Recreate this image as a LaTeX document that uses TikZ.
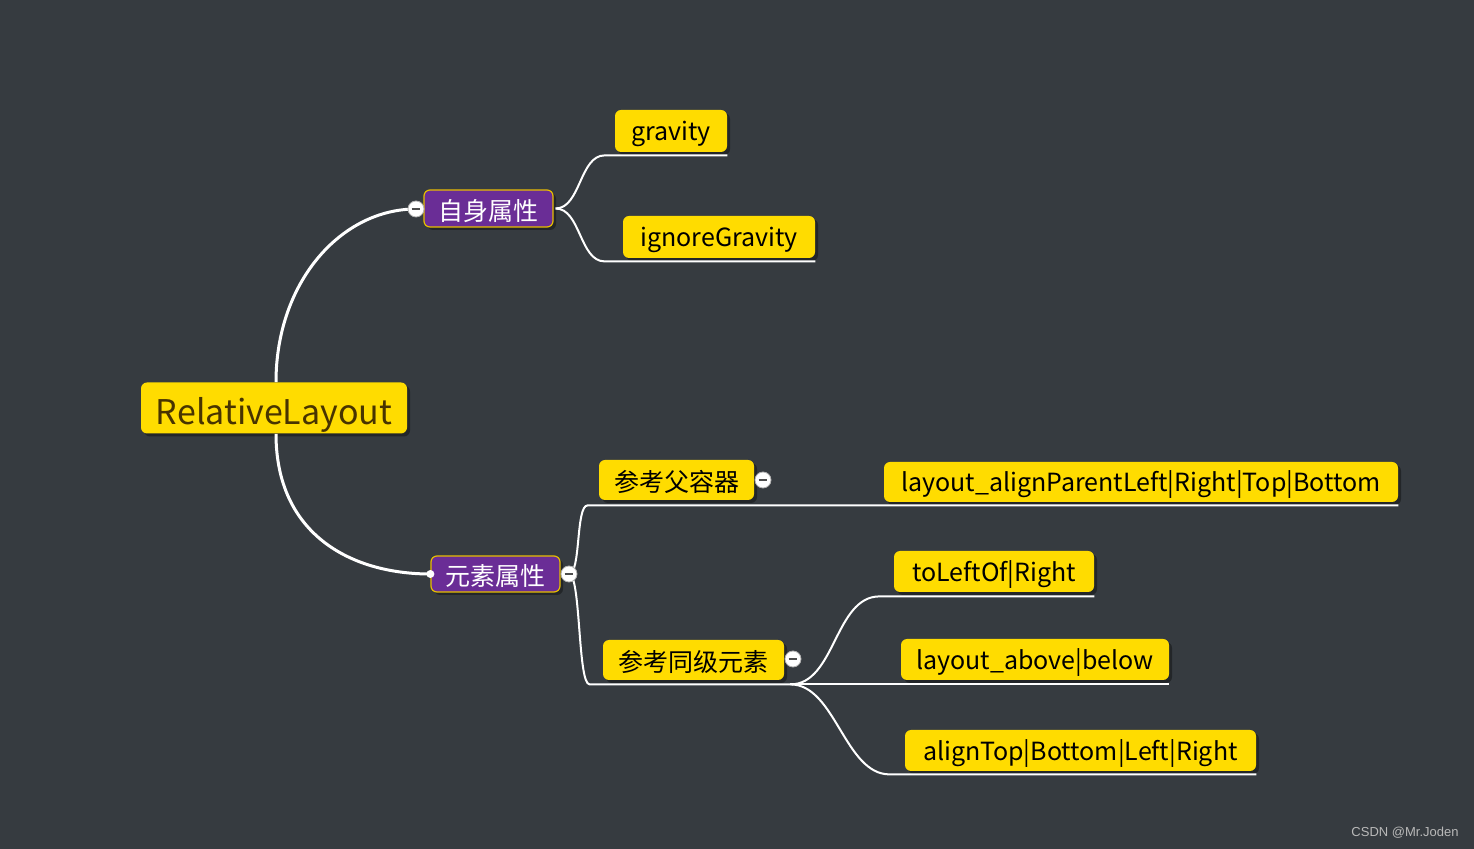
\documentclass[tikz,border=0pt]{standalone}
\usepackage{fontspec}
\setmainfont{Noto Sans CJK SC}
\newfontfamily\markfont{Liberation Sans}
\usetikzlibrary{shadows}
\definecolor{bg}{HTML}{363B40}
\definecolor{mmyellow}{HTML}{FFDC00}
\definecolor{mmpurple}{HTML}{6A2D96}
\definecolor{mmborder}{HTML}{E6BE00}
\definecolor{roottext}{RGB}{72,52,0}
\tikzset{
	topic/.style={fill=mmyellow, rounded corners=3pt, inner sep=0pt, text=black,
		font=\fontsize{12.5}{14}\selectfont, text height=12.5pt, text depth=2.5pt,
		drop shadow={shadow xshift=1.5pt, shadow yshift=-1.5pt, fill=black, opacity=0.35}},
	cjk/.style={text height=13.5pt, text depth=1.5pt},
	subtopic/.style={topic, cjk, fill=mmpurple, draw=mmborder, line width=0.6pt, text=white},
	link/.style={draw=white, line width=1pt},
	mainlink/.style={draw=white, line width=1.5pt},
	knob/.style={circle, fill=white, draw=gray!60, line width=0.4pt, minimum size=8pt, inner sep=0pt,
		path picture={\draw[black!70, line width=0.7pt] ([xshift=1.8pt]path picture bounding box.west) -- ([xshift=-1.8pt]path picture bounding box.east);}}
}

\begin{document}
\begin{tikzpicture}[x=0.5pt, y=-0.5pt]
	\useasboundingbox (0,0) rectangle (1474,849);
	\fill[bg] (0,0) rectangle (1474,849);

	% topics
	\node[topic, minimum width=133pt, minimum height=25.5pt, text=roottext, font=\fontsize{17}{20}\selectfont, text height=18.5pt, text depth=1.5pt] (root) at (274,408) {RelativeLayout};
	\node[subtopic, minimum width=64.5pt, minimum height=18.5pt] (self) at (488.5,208.5) {自身属性};
	\node[subtopic, minimum width=64.5pt, minimum height=18pt] (elem) at (495.5,574) {元素属性};
	\node[topic, minimum width=56pt, minimum height=21pt] (gravity) at (671,131) {gravity};
	\node[topic, minimum width=96pt, minimum height=21pt] (ignore) at (719,237) {ignoreGravity};
	\node[topic, cjk, minimum width=77.5pt, minimum height=20pt] (parent) at (676.5,480) {参考父容器};
	\node[topic, minimum width=257pt, minimum height=20pt] (alignparent) at (1141,482) {layout\_alignParentLeft|Right|Top|Bottom};
	\node[topic, cjk, minimum width=90.5pt, minimum height=20pt] (sibling) at (693.5,660) {参考同级元素};
	\node[topic, minimum width=100pt, minimum height=20.5pt] (toleft) at (994,571.5) {toLeftOf|Right};
	\node[topic, minimum width=134pt, minimum height=20.5pt] (above) at (1035,659.5) {layout\_above|below};
	\node[topic, minimum width=175.5pt, minimum height=20.5pt] (aligntop) at (1080.5,750.5) {alignTop|Bottom|Left|Right};

	% underline starts
	\coordinate (gu) at ([xshift=-5pt, yshift=-1.5pt]gravity.south west);
	\coordinate (iu) at ([xshift=-9pt, yshift=-1.5pt]ignore.south west);
	\coordinate (pu) at ([xshift=-5.5pt, yshift=-2.5pt]parent.south west);
	\coordinate (su) at ([xshift=-6.5pt, yshift=-2pt]sibling.south west);
	\coordinate (sr) at ([xshift=3pt, yshift=-2pt]sibling.south east);
	\coordinate (tu) at ([xshift=-7pt, yshift=-2pt]toleft.south west);
	\coordinate (au) at ([xshift=-7.5pt, yshift=-1.5pt]aligntop.south west);

	% knobs
	\coordinate (k1) at (416,209);
	\coordinate (k2) at (569,574);

	% connectors
	\draw[mainlink] ([xshift=1pt]root.north) .. controls +(0,-100) and +(-75,0) .. (k1);
	\draw[mainlink] ([xshift=1pt]root.south) .. controls +(0,100) and +(-80,0) .. (elem.west);
	\fill[white] (elem.west) circle (2pt);
	\draw[link] ([xshift=1pt]self.east) .. controls +(25,0) and +(-25,0) .. (gu) -- ([yshift=-1.5pt]gravity.south east);
	\draw[link] ([xshift=1pt]self.east) .. controls +(25,0) and +(-25,0) .. (iu) -- ([yshift=-1.5pt]ignore.south east);
	\draw[link] (k2) .. controls +(12,0) and +(-12,0) .. (pu) -- ([yshift=-1.5pt]alignparent.south east);
	\draw[link] (k2) .. controls +(12,0) and +(-12,0) .. (su) -- (sr);
	\draw[link] (sr) .. controls +(45,0) and +(-45,0) .. (tu) -- ([yshift=-2pt]toleft.south east);
	\draw[link] (sr) -- ([yshift=-2pt]above.south east);
	\draw[link] (sr) .. controls +(45,0) and +(-45,0) .. (au) -- ([yshift=-1.5pt]aligntop.south east);

	\node[knob] (knobself) at (k1) {};
	\node[knob] (knobelem) at (k2) {};
	\node[knob] (knobparent) at (763,480) {};
	\node[knob] (knobsibling) at (793,659) {};

	\node[font=\markfont\fontsize{6.5}{8}\selectfont, text=gray!55] (mark) at (1405,833) {CSDN @Mr.Joden};
\end{tikzpicture}
\end{document}
